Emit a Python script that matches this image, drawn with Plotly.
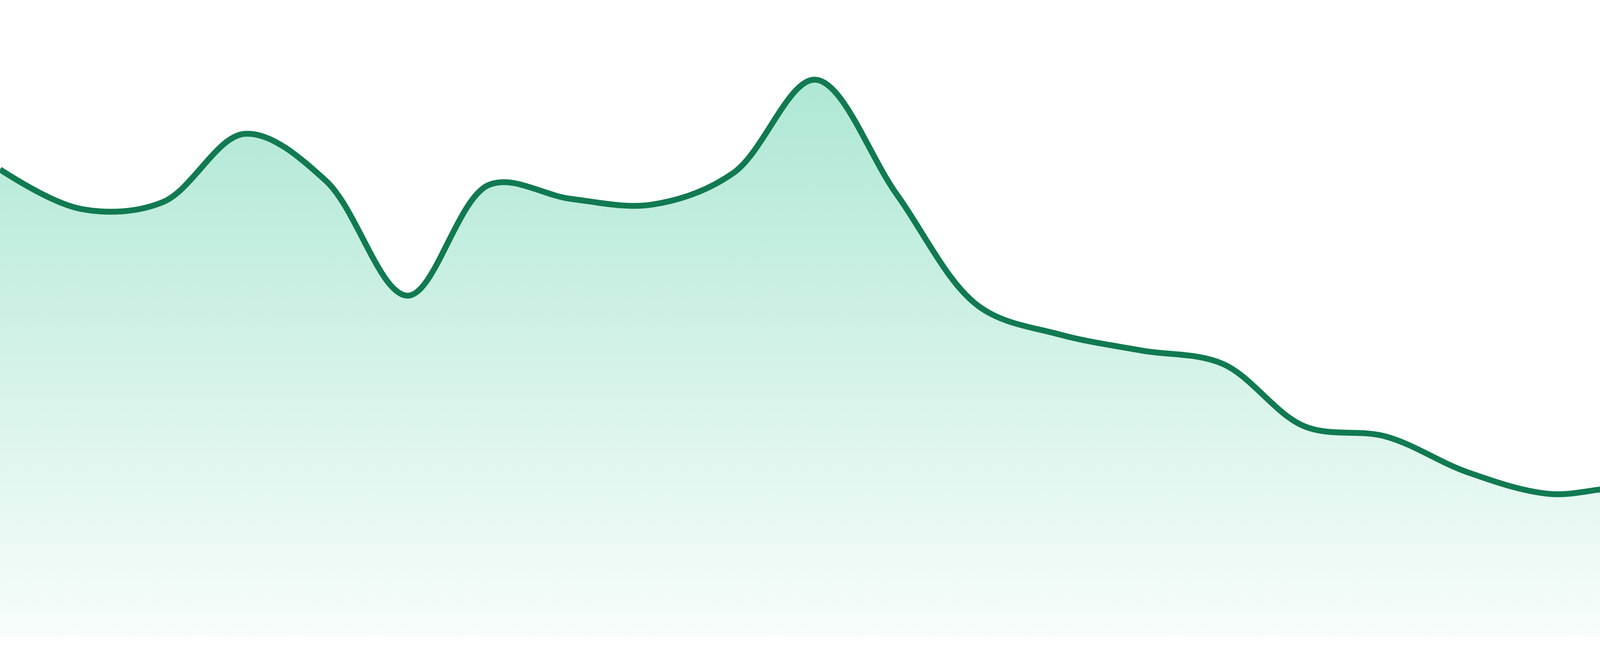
import plotly.graph_objects as go

# 24 evenly spaced samples (0-100 scale)
idx = list(range(24))
values = [73.4, 67.2, 68.3, 79.0, 71.6, 53.6, 71.0, 68.8, 67.9, 72.9, 87.5, 69.5,
          52.0, 47.5, 45.0, 42.9, 33.1, 31.5, 25.9, 22.5, 23.3, 18.8, 19.8, 22.6]

line_color = "#117a50"

fig = go.Figure()
fig.add_trace(go.Scatter(
    x=idx,
    y=values,
    mode="lines",
    line=dict(color=line_color, width=15, shape="spline", smoothing=1.0),
    fill="tozeroy",
    fillgradient=dict(
        type="vertical",
        start=0,
        stop=88,
        colorscale=[[0, "rgba(16,185,129,0.03)"], [1, "rgba(16,185,129,0.34)"]],
    ),
    hoverinfo="skip",
    showlegend=False,
))

fig.update_layout(
    width=4800,
    height=1680,
    margin=dict(l=0, r=0, t=0, b=48, pad=0),
    paper_bgcolor="white",
    plot_bgcolor="white",
    xaxis=dict(range=[0, 23], visible=False, fixedrange=True),
    yaxis=dict(range=[0, 100], visible=False, fixedrange=True),
)

# page body has an 8px default margin, drop it so the chart sits at 0,0
fig.write_html(
    "out.html",
    config={"displayModeBar": False},
    post_script="document.body.style.margin='0px';document.body.style.overflow='hidden';",
)
